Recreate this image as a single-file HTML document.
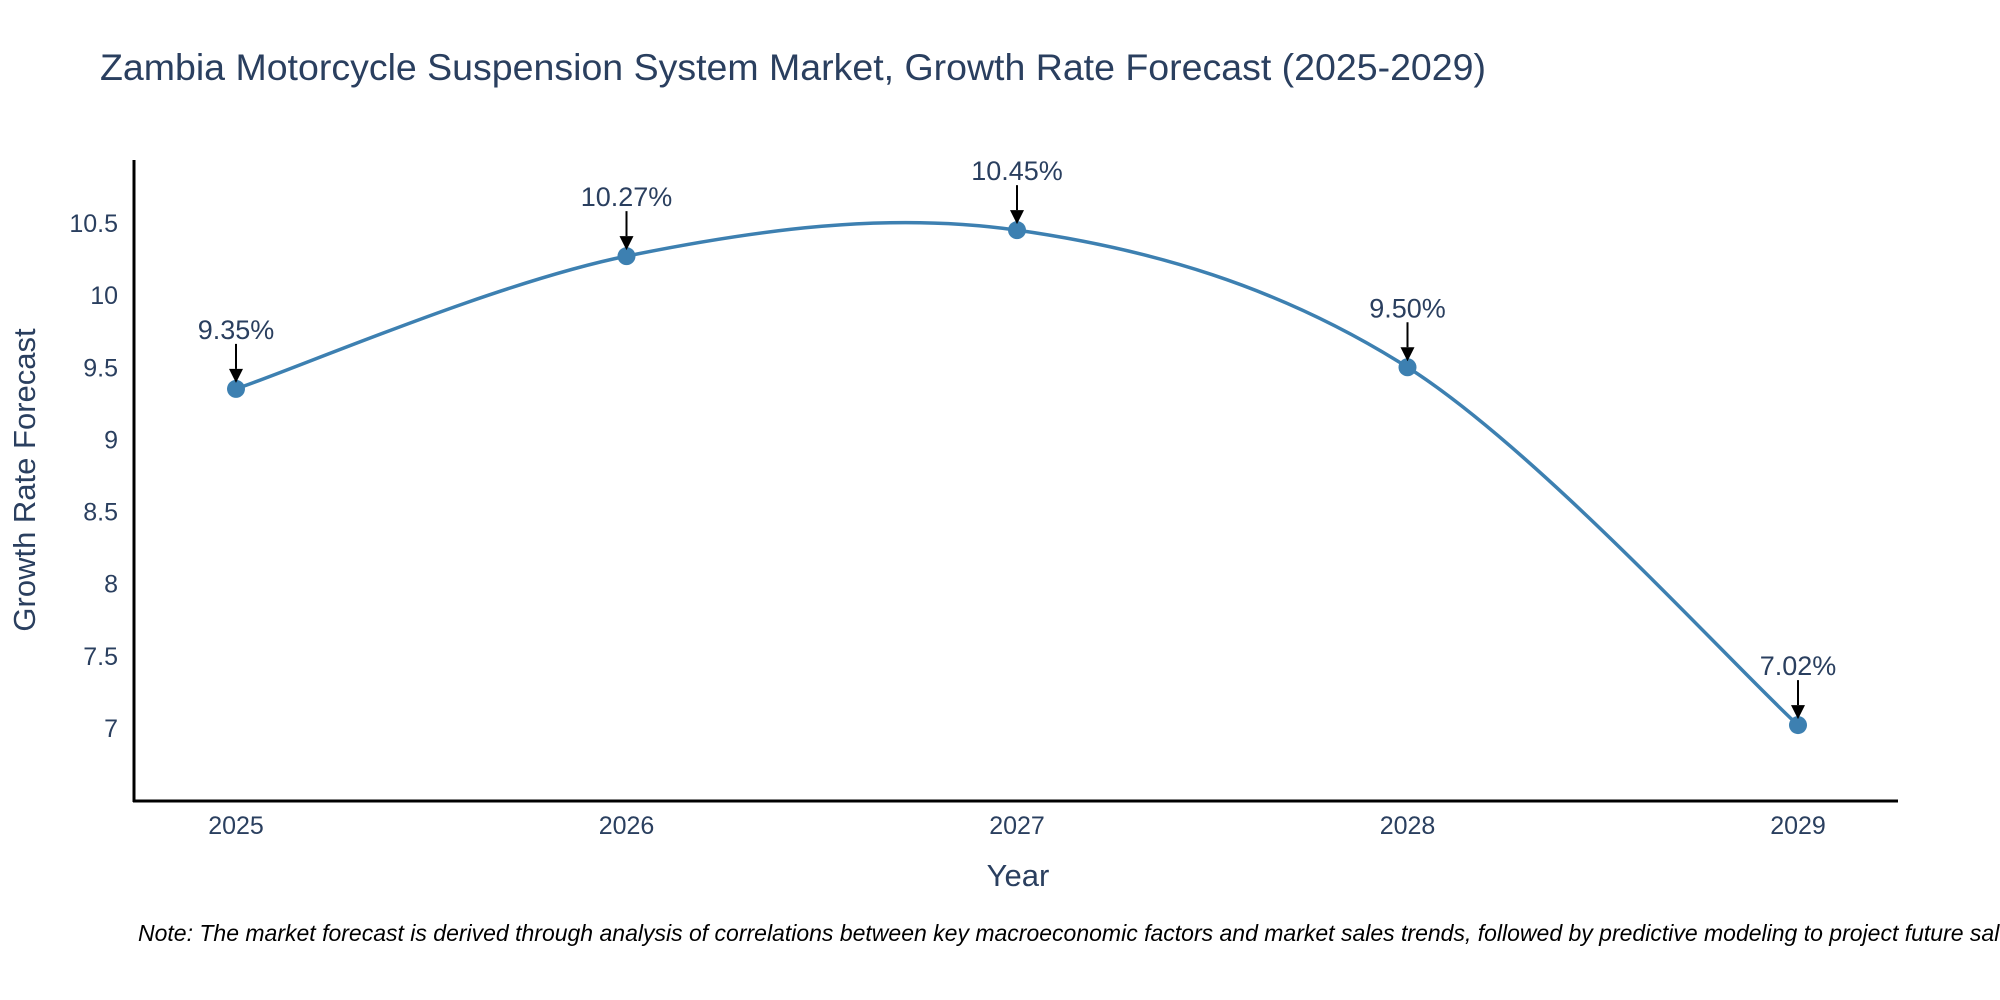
<!DOCTYPE html>
<html><head><meta charset="utf-8"><style>
body{margin:0;background:#fff;overflow:hidden;}
svg{display:block;font-family:"Liberation Sans","DejaVu Sans",sans-serif;}
</style></head><body>
<svg id="chart" width="2000" height="1000">
<rect width="2000" height="1000" fill="#fff"/>
<text x="100" y="80" font-size="37.5" fill="#2a3f5f">Zambia Motorcycle Suspension System Market, Growth Rate Forecast (2025-2029)</text>
<g id="yticks"></g>
<g id="xticks"></g>
<line x1="134" y1="160" x2="134" y2="802" stroke="#000" stroke-width="3"/>
<line x1="133" y1="801" x2="1898" y2="801" stroke="#000" stroke-width="3"/>
<path id="line" fill="none" stroke="#3d80b1" stroke-width="3.5"/>
<g id="marks"></g>
<text transform="translate(35,480) rotate(-90)" text-anchor="middle" font-size="31" fill="#2a3f5f">Growth Rate Forecast</text>
<text x="1018" y="886" text-anchor="middle" font-size="31" fill="#2a3f5f">Year</text>
<text x="138" y="941" font-size="23" font-style="italic" fill="#000">Note: The market forecast is derived through analysis of correlations between key macroeconomic factors and market sales trends, followed by predictive modeling to project future sales.</text>
</svg>
<script>
const years = [2025, 2026, 2027, 2028, 2029];
const values = [9.35, 10.27, 10.45, 9.50, 7.02];
const labels = ["9.35%", "10.27%", "10.45%", "9.50%", "7.02%"];
const yTicks = [7, 7.5, 8, 8.5, 9, 9.5, 10, 10.5];
const yTickLabels = ["7", "7.5", "8", "8.5", "9", "9.5", "10", "10.5"];

const NS = "http://www.w3.org/2000/svg";
const xs = v => 236 + (v - 2025) * 390.5;
const ys = v => 728 - (v - 7) * 144.3;
function mk(tag, attrs, parent) {
  const e = document.createElementNS(NS, tag);
  for (const k in attrs) e.setAttribute(k, attrs[k]);
  parent.appendChild(e);
  return e;
}
const yg = document.getElementById('yticks');
yTicks.forEach((t, i) => {
  const el = mk('text', {x: 118, y: ys(t) + 9, 'text-anchor': 'end', 'font-size': 25, fill: '#2a3f5f'}, yg);
  el.textContent = yTickLabels[i];
  
  
});
const xg = document.getElementById('xticks');
years.forEach(y => {
  const el = mk('text', {x: xs(y), y: 834, 'text-anchor': 'middle', 'font-size': 25, fill: '#2a3f5f'}, xg);
  el.textContent = String(y);
  
  
});
const P = years.map((y, i) => [xs(y), ys(values[i])]);
let d = `M${P[0][0]},${P[0][1]}`;
for (let i = 0; i < P.length - 1; i++) {
  const p0 = P[Math.max(0, i - 1)], p1 = P[i], p2 = P[i + 1], p3 = P[Math.min(P.length - 1, i + 2)];
  const c1 = [p1[0] + (p2[0] - p0[0]) / 6, p1[1] + (p2[1] - p0[1]) / 6];
  const c2 = [p2[0] - (p3[0] - p1[0]) / 6, p2[1] - (p3[1] - p1[1]) / 6];
  d += ` C${c1[0]},${c1[1]} ${c2[0]},${c2[1]} ${p2[0]},${p2[1]}`;
}
document.getElementById('line').setAttribute('d', d);
const mg = document.getElementById('marks');
P.forEach((p, i) => {
  const c = mk('circle', {cx: p[0], cy: p[1], r: 9, fill: '#3d80b1'}, mg);
  
  
  const ln = mk('line', {x1: p[0], y1: p[1] - 45, x2: p[0], y2: p[1] - 20, stroke: '#000', 'stroke-width': 2}, mg);
  
  
  const ah = mk('path', {d: `M${p[0]-7},${p[1]-20} L${p[0]+7},${p[1]-20} L${p[0]},${p[1]-6} Z`, fill: '#000'}, mg);
  
  
  const t = mk('text', {x: p[0], y: p[1] - 50, 'text-anchor': 'middle', 'font-size': 27, fill: '#2a3f5f'}, mg);
  t.textContent = labels[i];
  
  
});
</script>
</body></html>
